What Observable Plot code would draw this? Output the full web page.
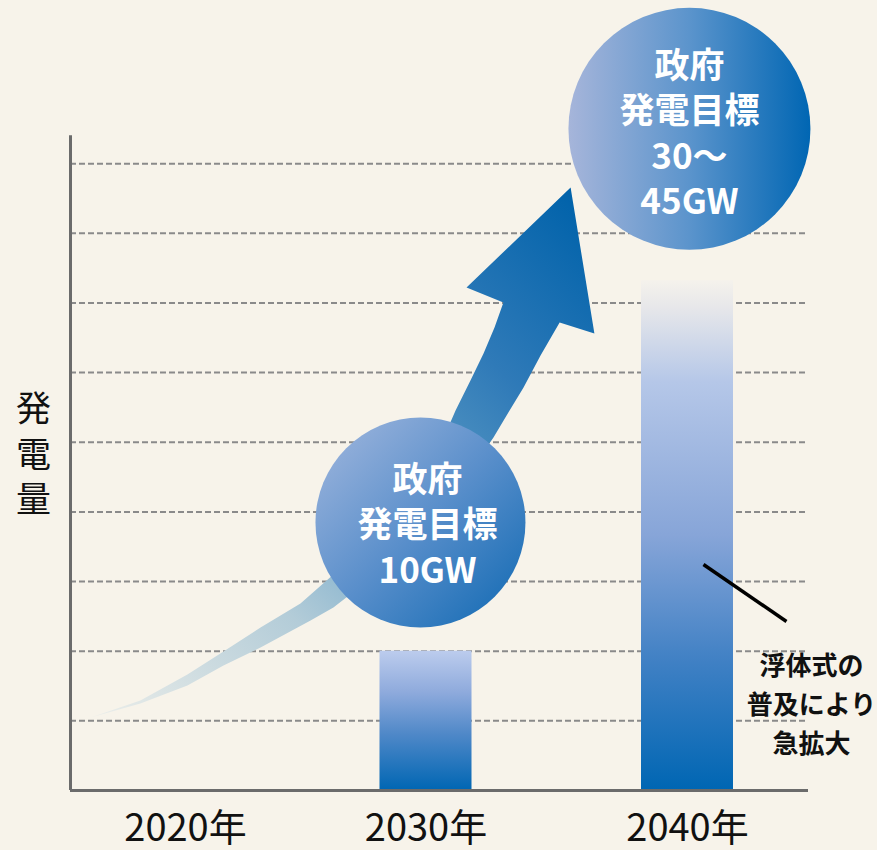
<!DOCTYPE html>
<html><head><meta charset="utf-8">
<script src="https://cdn.jsdelivr.net/npm/d3@7"></script>
<script src="https://cdn.jsdelivr.net/npm/@observablehq/plot@0.6"></script>
<style>
html,body{margin:0;padding:0;background:#f7f3ea;}
</style></head><body><div id="chart"></div>
<script>
// ---- data ----
const years = [2020, 2030, 2040];
const yearLabels = ["2020年", "2030年", "2040年"];
const barYears = [2030, 2040];
const barValues = [10, 36.6];          // GW (2040 bar fades out at its top)
const gridValues = [5, 10, 15, 20, 25, 30, 35, 40, 45];
const yAxisTop = 47;
const yLabel = "発\n電\n量";
const targetLabels = ["政府\n発電目標\n10GW", "政府\n発電目標\n30～\n45GW"];
const targetCircleX = [2029.77, 2040.08];
const targetCircleY = [19.24, 47.5];
const targetTextX = [2030.06, 2040.08];
const targetTextY = [19.2, 47.3];
const noteText = "浮体式の\n普及により\n急拡大";
const noteX = [2045.12];
const noteY = [6.39];
const leaderX = [2040.66, 2044.09];
const leaderY = [16.22, 12.13];
// growth arrow outline (year, GW)
const arrowX = [2016.70, 2018.43, 2020.08, 2021.58, 2023.12, 2024.78, 2026.15, 2027.69, 2029.36, 2030.55, 2031.13, 2031.70, 2032.20, 2032.62, 2032.96,
  2031.55, 2035.53, 2036.44, 2035.11,
  2034.38, 2033.73, 2033.15, 2032.58, 2031.70, 2030.55, 2028.94, 2026.15, 2025.20, 2023.12, 2021.58, 2020.08, 2018.43];
const arrowY = [5.24, 6.46, 8.33, 9.98, 11.70, 13.42, 15.51, 17.95, 21.03, 24.77, 27.28, 29.43, 31.37, 33.24, 35.03,
  36.11, 43.29, 32.81, 33.60,
  31.23, 28.93, 27.14, 25.34, 22.97, 20.10, 16.87, 13.14, 12.20, 10.27, 8.97, 7.54, 6.25];

// ---- tables ----
const bars = barYears.map((y, i) => ({year: y, value: barValues[i]}));
const targets = targetLabels.map((t, i) => ({label: t, cx: targetCircleX[i], cy: targetCircleY[i], tx: targetTextX[i], ty: targetTextY[i]}));
const arrowPts = arrowX.map((x, i) => ({x, y: arrowY[i]}));
const xDomain = [2016, 2020, 2030, 2040, 2045];
const xRange = [70, 185, 425.5, 687, 808];
const barHalfPx = 46;

const font = "'Noto Sans CJK JP', 'Noto Sans', sans-serif";

const chart = Plot.plot({
  width: 877, height: 850,
  marginLeft: 70, marginRight: 69, marginTop: 93.5, marginBottom: 60,
  x: {type: "linear", domain: xDomain, range: xRange, axis: null},
  y: {domain: [0, 50], axis: null},
  style: {background: "transparent", overflow: "visible", fontFamily: font},
  marks: [
    Plot.ruleY(gridValues, {stroke: "#8a8a8a", strokeWidth: 2, strokeDasharray: "6,3"}),
    Plot.rectY(bars.filter(d => d.year === 2030), {x1: "year", x2: "year", y1: 0, y2: "value", insetLeft: -barHalfPx, insetRight: -barHalfPx, fill: "url(#bar2030)"}),
    Plot.rectY(bars.filter(d => d.year === 2040), {x1: "year", x2: "year", y1: 0, y2: "value", insetLeft: -barHalfPx, insetRight: -barHalfPx, fill: "url(#bar2040)"}),
    Plot.line(arrowPts, {x: "x", y: "y", fill: "url(#arrowGrad)", stroke: "none", curve: "linear-closed"}),
    Plot.dot([targets[0]], {x: "cx", y: "cy", r: 105, fill: "url(#circSmall)", stroke: "none"}),
    Plot.dot([targets[1]], {x: "cx", y: "cy", r: 121, fill: "url(#circBig)", stroke: "none"}),
    Plot.text(targets, {x: "tx", y: "ty", text: "label", fill: "white", fontSize: 35, fontWeight: "bold", lineHeight: 1.29}),
    Plot.link([0], {x1: () => leaderX[0], y1: () => leaderY[0], x2: () => leaderX[1], y2: () => leaderY[1], stroke: "#000", strokeWidth: 3.5}),
    Plot.text([noteText], {x: () => noteX[0], y: () => noteY[0], text: d => d, fill: "#111", fontSize: 26, fontWeight: "bold", lineHeight: 1.5}),
    Plot.ruleY([0], {stroke: "#6b6b6b", strokeWidth: 3}),
    Plot.ruleX([xDomain[0]], {y1: 0, y2: yAxisTop, stroke: "#6b6b6b", strokeWidth: 3}),
    Plot.text([yLabel], {frameAnchor: "left", textAnchor: "middle", dx: -37, dy: 10, text: d => d, fill: "#111", fontSize: 35, lineHeight: 1.3}),
    Plot.text(years, {x: d => d, text: (d, i) => yearLabels[i], frameAnchor: "bottom", dy: 50, fill: "#111", fontSize: 38})
  ]
});

const svg = d3.select(chart);
const defs = svg.insert("defs", ":first-child");
function lin(id, x1, y1, x2, y2, stops) {
  const g = defs.append("linearGradient").attr("id", id)
    .attr("x1", x1).attr("y1", y1).attr("x2", x2).attr("y2", y2);
  stops.forEach(([o, c]) => g.append("stop").attr("offset", o).attr("stop-color", c));
}
lin("bar2030", 0, 0, 0, 1, [[0, "#bccced"], [0.3, "#8eaadc"], [0.6, "#4f88c8"], [1, "#0066b3"]]);
lin("bar2040", 0, 0, 0, 1, [[0, "#f5f2ec"], [0.05, "#e8e8ea"], [0.2, "#b5c7e8"], [0.5, "#87a5d8"], [0.75, "#3f80c4"], [1, "#0066b3"]]);
lin("circBig", 0, 0, 1, 0, [[0, "#a6b5da"], [0.5, "#5b94cc"], [1, "#0066b3"]]);
lin("circSmall", 0, 0, 1, 1, [[0, "#a3b8de"], [0.5, "#5a8fcb"], [1, "#0e68b2"]]);
lin("arrowGrad", 0, 1, 0.95, 0, [[0, "#eceeea"], [0.3, "#b3ccd8"], [0.55, "#5b9bc4"], [0.75, "#2f7ab8"], [1, "#0062aa"]]);

document.getElementById("chart").appendChild(chart);
</script>
</body></html>
